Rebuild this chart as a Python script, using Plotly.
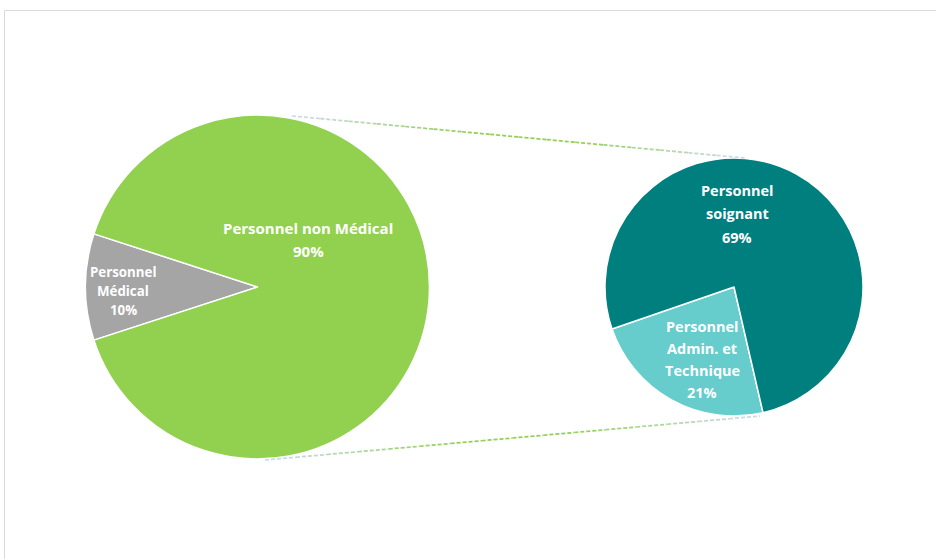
import plotly.graph_objects as go

# ---- data ----
outer_labels = ["Personnel<br>Médical", "Personnel non Médical"]
outer_values = [10, 90]
inner_labels = ["Personnel<br>Admin. et<br>Technique", "Personnel<br>soignant"]
inner_values = [21, 69]

# ---- style ----
W, H = 936, 559
outer_colors = ["#A5A5A5", "#92D050"]
inner_colors = ["#66CCCC", "#007F7F"]
FONT = "Open Sans"


def px_x(x):
    return x / W


def px_y(y):
    return 1 - y / H


def domain(cx, cy, r):
    return dict(x=[px_x(cx - r), px_x(cx + r)], y=[px_y(cy + r), px_y(cy - r)])


fig = go.Figure()
fig.add_trace(go.Pie(
    labels=outer_labels, values=outer_values, sort=False, direction="clockwise",
    rotation=252, marker=dict(colors=outer_colors, line=dict(color="white", width=1.5)),
    textinfo="none", hoverinfo="label+value", domain=domain(257.5, 287, 172),
    showlegend=False))
fig.add_trace(go.Pie(
    labels=inner_labels, values=inner_values, sort=False, direction="clockwise",
    rotation=167, marker=dict(colors=inner_colors, line=dict(color="white", width=1.5)),
    textinfo="none", hoverinfo="label+value", domain=domain(734, 287, 129),
    showlegend=False))

# label placement (centre x, first-line y, line spacing, font size) in pixels
label_pos = [
    (outer_labels[0], outer_values[0], 123, 272, 19.0, 13.3),
    (outer_labels[1], outer_values[1], 308, 228, 23.0, 15.0),
    (inner_labels[0], inner_values[0], 702, 326, 22.3, 14.5),
    (inner_labels[1], inner_values[1], 737, 190, 23.5, 14.5),
]
annotations = []
for lab, val, cx, y0, sp, fs in label_pos:
    lines = lab.split("<br>") + [f"{val}%"]
    for i, ln in enumerate(lines):
        annotations.append(dict(
            x=px_x(cx), y=px_y(y0 + i * sp), xref="paper", yref="paper",
            text=f"<b>{ln}</b>", showarrow=False, xanchor="center", yanchor="middle",
            font=dict(family=FONT, size=fs, color="white")))


def mix(c1, c2, t):
    a = [int(c1[i:i + 2], 16) for i in (1, 3, 5)]
    b = [int(c2[i:i + 2], 16) for i in (1, 3, 5)]
    return "rgb(%d,%d,%d)" % tuple(round(a[k] + (b[k] - a[k]) * t) for k in range(3))


shapes = []


def connector(p0, p1, n=16):
    for k in range(n):
        t0, t1 = k / n, (k + 1) / n
        tm = (t0 + t1) / 2
        w = 1 - abs(2 * tm - 1)
        col = mix("#CFDDF0", "#92D050", min(1, w * 1.3))
        shapes.append(dict(
            type="line", xref="paper", yref="paper",
            x0=px_x(p0[0] + (p1[0] - p0[0]) * t0), y0=px_y(p0[1] + (p1[1] - p0[1]) * t0),
            x1=px_x(p0[0] + (p1[0] - p0[0]) * t1), y1=px_y(p0[1] + (p1[1] - p0[1]) * t1),
            line=dict(color=col, width=1.75, dash="4px,2px")))


connector((292, 116), (745, 158))
connector((265, 460), (760, 416))

# chart border (only top/left visible in the crop)
shapes.append(dict(type="rect", xref="paper", yref="paper",
                   x0=px_x(4.5), y0=-0.05, x1=1.05, y1=px_y(10.5),
                   line=dict(color="#D9D9D9", width=1), fillcolor="rgba(0,0,0,0)"))

fig.update_layout(
    width=W, height=H, margin=dict(l=0, r=0, t=0, b=0),
    paper_bgcolor="white", plot_bgcolor="white",
    annotations=annotations, shapes=shapes,
)

fig.write_html("out.html", config={"displayModeBar": False},
               post_script="document.body.style.margin='0px';")
